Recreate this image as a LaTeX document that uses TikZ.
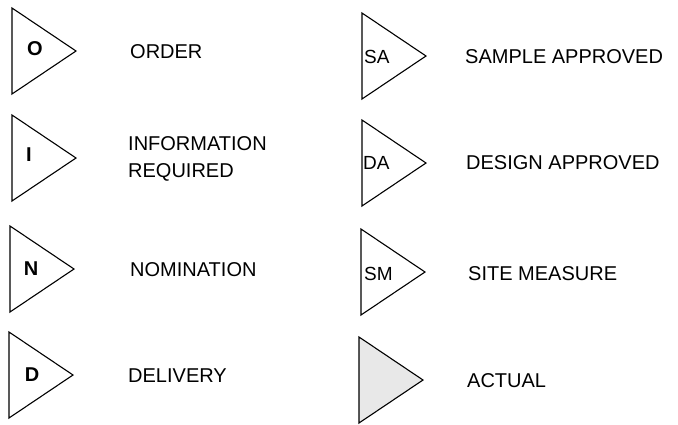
\documentclass[tikz,border=0pt]{standalone}
\usepackage{fontspec}
\setmainfont{Liberation Sans}
\begin{document}
\begin{tikzpicture}[x=1pt,y=-1pt,
  flag/.style={draw=black,line width=1.1pt,line join=miter},
  actualflag/.style={flag,fill=black!9},
  code/.style={inner sep=0pt,font=\fontsize{20}{22}\selectfont\bfseries},
  abbr/.style={inner sep=0pt,anchor=west,font=\fontsize{19}{21}\selectfont},
  caption/.style={inner sep=0pt,anchor=west,align=left,font=\fontsize{20}{27}\selectfont}]
\useasboundingbox (0,0) rectangle (678,424);

% left column: flag symbols with bold codes
\draw[flag] (12,8) -- (12,94) -- (76,51) -- cycle;
\node[code] (o) at (35,49) {O};
\node[caption] (order) at (130,52) {ORDER};

\draw[flag] (12,115) -- (12,201) -- (76,158) -- cycle;
\node[code] (i) at (29,155) {I};
\node[caption] (info) at (128,158.5) {INFORMATION\\REQUIRED};

\draw[flag] (10,226) -- (10,312) -- (74,269) -- cycle;
\node[code] (n) at (31,269) {N};
\node[caption] (nom) at (130,270) {NOMINATION};

\draw[flag] (9,332) -- (9,418) -- (73,375) -- cycle;
\node[code] (d) at (32,375) {D};
\node[caption] (del) at (128,376) {DELIVERY};

% right column: flag symbols with abbreviations
\draw[flag] (362,13) -- (362,99) -- (426,56) -- cycle;
\node[abbr] (sa) at (364,57) {SA};
\node[caption] (sample) at (465,57) {SAMPLE APPROVED};

\draw[flag] (362,120) -- (362,206) -- (426,163) -- cycle;
\node[abbr] (da) at (363,163) {DA};
\node[caption] (design) at (466,163) {DESIGN APPROVED};

\draw[flag] (361,229) -- (361,315) -- (425,272) -- cycle;
\node[abbr] (sm) at (364,274) {SM};
\node[caption] (site) at (468,274) {SITE MEASURE};

\draw[actualflag] (359,337) -- (359,423) -- (423,380) -- cycle;
\node[caption] (actual) at (467,381) {ACTUAL};
\end{tikzpicture}
\end{document}
